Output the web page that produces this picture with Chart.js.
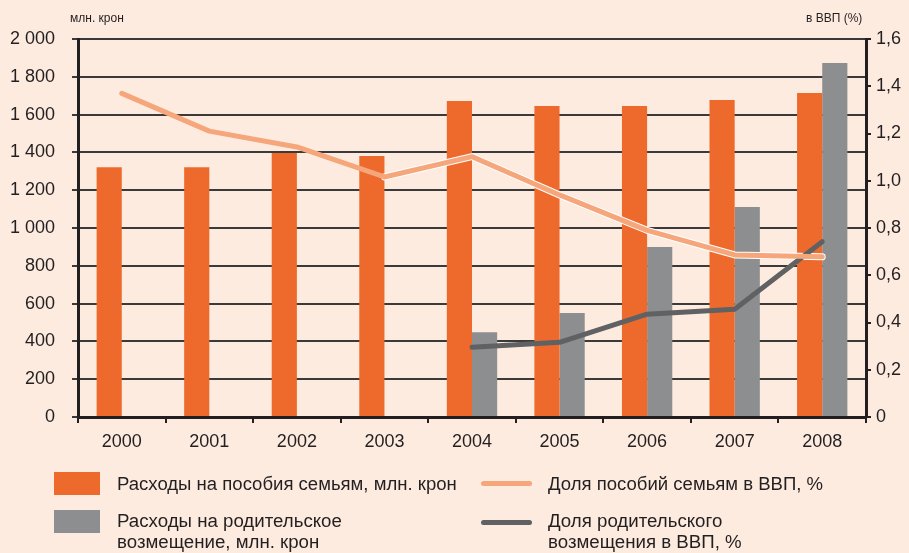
<!DOCTYPE html>
<html lang="ru">
<head>
<meta charset="utf-8">
<title>Расходы на пособия семьям и родительское возмещение</title>
<script src="https://cdn.jsdelivr.net/npm/chart.js@4"></script>
<style>
  html, body { margin: 0; padding: 0; background: #fdebe0; }
  #wrap { position: relative; width: 909px; height: 553px; background: #fdebe0; font-family: "Liberation Sans", Arial, sans-serif; color: #231f20; }
  #chart { position: absolute; left: 0; top: 0; }
  .unit { position: absolute; top: 10px; font-size: 12px; line-height: 16px; white-space: nowrap; }
  .sw { position: absolute; width: 46px; height: 23px; }
  .ln { position: absolute; width: 51px; height: 5px; border-radius: 3px; }
  .lt { position: absolute; font-family: "Liberation Sans", Arial, sans-serif; font-size: 18px; line-height: 21px; white-space: nowrap; transform-origin: left top; }
</style>
</head>
<body>
<div id="wrap">
  <canvas id="chart" width="909" height="553"></canvas>
  <div class="unit" style="left:70px">млн. крон</div>
  <div class="unit" style="left:806px">в ВВП (%)</div>

  <div class="sw" style="left:54px;top:472px;background:#ee6a2c"></div>
  <div class="lt" data-w="340" style="left:117px;top:474px">Расходы на пособия семьям, млн. крон</div>
  <div class="sw" style="left:54px;top:510px;background:#8d8e90"></div>
  <div class="lt" data-w="225" style="left:117px;top:511px">Расходы на родительское<br>возмещение, млн. крон</div>

  <div class="ln" style="left:481px;top:481px;background:#f5a67a"></div>
  <div class="lt" data-w="275" style="left:548px;top:474px">Доля пособий семьям в ВВП, %</div>
  <div class="ln" style="left:481px;top:520px;background:#606163"></div>
  <div class="lt" data-w="194" style="left:548px;top:511px">Доля родительского<br>возмещения в ВВП, %</div>
</div>

<script>
// Years on the category axis
const years = ['2000', '2001', '2002', '2003', '2004', '2005', '2006', '2007', '2008'];

// Spending, million kroons (left axis)
const familyBenefits = [1322, 1322, 1397, 1381, 1672, 1646, 1646, 1677, 1714];
const parentalBenefit = [null, null, null, null, 448, 550, 899, 1111, 1873];

// Share of GDP, % (right axis)
const familyShareGdp = [1.37, 1.21, 1.143, 1.016, 1.102, 0.94, 0.79, 0.686, 0.678];
const parentalShareGdp = [null, null, null, null, 0.295, 0.316, 0.435, 0.456, 0.742];

// Axis ranges and tick steps
const leftTicks = { min: 0, max: 2000, step: 200 };
const rightTicks = { min: 0, max: 1.6, step: 0.2 };

const ink = '#231f20';
const tickFont = { family: '"Liberation Sans", Arial, sans-serif', size: 18 };

const fmtThousands = v => String(v).replace(/\B(?=(\d{3})+(?!\d))/g, ' ');
const fmtShare = v => (Math.abs(v) < 1e-9 ? '0' : Number(v).toFixed(1).replace('.', ','));

// Fit each legend caption to its column width
document.querySelectorAll('.lt').forEach(el => {
  const w = Number(el.dataset.w);
  const k = w / el.offsetWidth;
  el.style.transform = 'scaleX(' + k.toFixed(3) + ')';
});

new Chart(document.getElementById('chart'), {
  type: 'bar',
  data: {
    labels: years,
    datasets: [
      {
        type: 'line', label: 'Доля пособий семьям в ВВП, %', data: familyShareGdp, yAxisID: 'y1',
        borderColor: '#f5a67a', borderWidth: 5, pointRadius: 0, tension: 0,
        borderCapStyle: 'round', borderJoinStyle: 'round', order: 1
      },
      {
        // thin light edge under the later part of the family-benefit line
        type: 'line', label: 'edge', data: familyShareGdp, yAxisID: 'y1',
        borderColor: 'rgba(255,255,255,0)', borderWidth: 7, pointRadius: 0, tension: 0,
        borderCapStyle: 'round', borderJoinStyle: 'round', order: 2,
        segment: { borderColor: ctx => ctx.p0DataIndex >= 3 ? '#ffffff' : 'rgba(255,255,255,0)' }
      },
      {
        type: 'line', label: 'Доля родительского возмещения в ВВП, %', data: parentalShareGdp, yAxisID: 'y1',
        borderColor: '#606163', borderWidth: 5, pointRadius: 0, tension: 0,
        borderCapStyle: 'round', borderJoinStyle: 'round', order: 1
      },
      {
        label: 'Расходы на пособия семьям, млн. крон', data: familyBenefits, yAxisID: 'y',
        backgroundColor: '#ee6a2c', borderWidth: 0, order: 3,
        barPercentage: 1.0, categoryPercentage: 0.575
      },
      {
        label: 'Расходы на родительское возмещение, млн. крон', data: parentalBenefit, yAxisID: 'y',
        backgroundColor: '#8d8e90', borderWidth: 0, order: 3,
        barPercentage: 1.0, categoryPercentage: 0.575
      }
    ]
  },
  options: {
    responsive: false,
    animation: false,
    devicePixelRatio: 1,
    layout: { padding: { top: 39, left: 0, right: 0, bottom: 0 } },
    plugins: { legend: { display: false }, tooltip: { enabled: false } },
    scales: {
      x: {
        afterFit: s => { s.height = 136; },
        grid: { offset: true, drawOnChartArea: false, drawTicks: true, tickLength: 6, color: ink, lineWidth: 2 },
        border: { color: ink, width: 3 },
        ticks: { font: tickFont, color: ink, padding: 8, maxRotation: 0 }
      },
      y: {
        position: 'left',
        min: leftTicks.min, max: leftTicks.max,
        afterFit: s => { s.width = 78; },
        grid: { color: '#3b3a3a', lineWidth: 2, drawTicks: true, tickLength: 6 },
        border: { color: ink, width: 3 },
        ticks: { stepSize: leftTicks.step, font: tickFont, color: ink, padding: 17, callback: v => fmtThousands(v) }
      },
      y1: {
        position: 'right',
        min: rightTicks.min, max: rightTicks.max,
        afterFit: s => { s.width = 43; },
        grid: { drawOnChartArea: false, drawTicks: true, tickLength: 5, color: ink, lineWidth: 2 },
        border: { color: ink, width: 3 },
        ticks: { stepSize: rightTicks.step, font: tickFont, color: ink, padding: 5, callback: v => fmtShare(v) }
      }
    }
  }
});
</script>
</body>
</html>
